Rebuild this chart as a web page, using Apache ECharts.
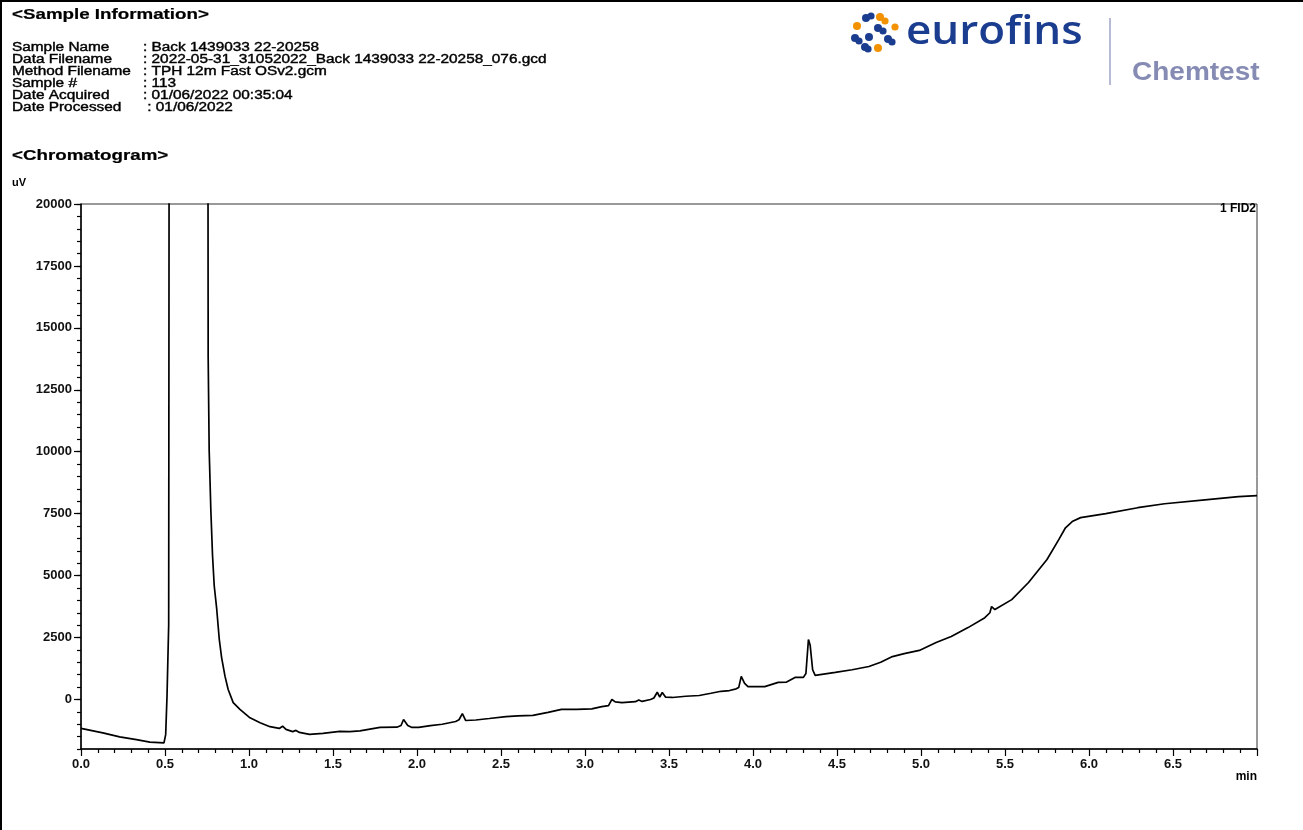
<!DOCTYPE html>
<html>
<head>
<meta charset="utf-8">
<title>Chromatogram</title>
<script src="https://cdn.jsdelivr.net/npm/echarts@6/dist/echarts.min.js"></script>
<style>
  html, body { margin: 0; padding: 0; background: #fff; }
  #chart { width: 1303px; height: 830px; }
</style>
</head>
<body>
<div id="chart"></div>
<script>
// retention time (min) and detector response (uV)
const retention = [
  0.00, 0.13, 0.23, 0.33, 0.41, 0.494, 0.504, 0.512, 0.522, 0.533, 0.64, 0.746,
  0.757, 0.763, 0.773, 0.783, 0.793, 0.807, 0.823, 0.837, 0.857, 0.876, 0.906, 0.946,
  1.006, 1.066, 1.125, 1.18, 1.20, 1.22, 1.26, 1.28, 1.30, 1.36, 1.44, 1.54,
  1.60, 1.66, 1.72, 1.78, 1.88, 1.905, 1.92, 1.945, 1.97, 2.01, 2.08, 2.15,
  2.23, 2.25, 2.27, 2.29, 2.35, 2.43, 2.53, 2.60, 2.69, 2.78, 2.86, 2.95,
  3.04, 3.10, 3.14, 3.16, 3.18, 3.22, 3.30, 3.32, 3.34, 3.39, 3.41, 3.43,
  3.445, 3.46, 3.48, 3.52, 3.60, 3.68, 3.75, 3.81, 3.86, 3.90, 3.915, 3.93,
  3.95, 3.97, 4.07, 4.15, 4.20, 4.25, 4.30, 4.315, 4.33, 4.34, 4.355, 4.37,
  4.42, 4.49, 4.59, 4.69, 4.76, 4.83, 4.90, 4.99, 5.09, 5.18, 5.28, 5.38,
  5.41, 5.42, 5.44, 5.54, 5.64, 5.75, 5.82, 5.86, 5.90, 5.95, 6.10, 6.29,
  6.45, 6.69, 6.89, 7.00
];
const signal = [
  -1170, -1350, -1510, -1620, -1720, -1750, -1420, 130, 3030, 90000, 150000, 90000,
  13820, 10050, 7620, 5800, 4590, 3710, 2430, 1690, 940, 400, -130, -400,
  -740, -940, -1100, -1170, -1080, -1210, -1300, -1250, -1330, -1410, -1370, -1290,
  -1300, -1270, -1200, -1130, -1120, -1050, -810, -1050, -1130, -1130, -1060, -1000,
  -890, -820, -570, -850, -830, -770, -690, -660, -640, -520, -400, -400,
  -380, -290, -250, 0, -100, -130, -90, -20, -80, 0, 60, 290,
  100, 280, 90, 80, 130, 160, 250, 330, 360, 430, 480, 930,
  650, 520, 520, 690, 700, 890, 890, 1050, 2420, 2200, 1200, 970,
  1020, 1090, 1200, 1330, 1500, 1730, 1850, 1980, 2300, 2540, 2900, 3300,
  3500, 3750, 3630, 4030, 4720, 5650, 6450, 6930, 7180, 7340, 7500, 7740,
  7900, 8060, 8190, 8230
];

const yLabelValues = [0, 2500, 5000, 7500, 10000, 12500, 15000, 17500, 20000];

const infoLabels = ['Sample Name', 'Data Filename', 'Method Filename', 'Sample #', 'Date Acquired', 'Date Processed'];
const infoValues = [
  ': Back 1439033 22-20258',
  ': 2022-05-31_31052022_Back 1439033 22-20258_076.gcd',
  ': TPH 12m Fast OSv2.gcm',
  ': 113',
  ': 01/06/2022 00:35:04',
  ' : 01/06/2022'
];

const FONT = '"Liberation Sans", Arial, sans-serif';
const BLUE = '#1b3d8f';
const ORANGE = '#f39200';

const traceData = retention.map((t, i) => [t, signal[i]]);

// stretched header text, like the printed report
const headerText = (x, y, text, size, bold) => ({
  type: 'text',
  x: x,
  y: y,
  scaleX: bold ? 1.25 : 1.23,
  silent: true,
  style: {
    text: text,
    x: 0,
    y: 0,
    fill: '#000',
    stroke: '#000',
    lineWidth: bold ? 0.2 : 0.4,
    font: (bold ? 'bold ' : '') + size + 'px ' + FONT,
    textVerticalAlign: 'middle'
  }
});

const graphics = [
  { type: 'rect', shape: { x: 0, y: 0, width: 1303, height: 2 }, style: { fill: '#000' }, silent: true },
  { type: 'rect', shape: { x: 0, y: 0, width: 2, height: 830 }, style: { fill: '#000' }, silent: true },
  headerText(12, 15, '<Sample Information>', 15, true),
  headerText(12, 156, '<Chromatogram>', 15, true)
];

infoLabels.forEach((label, i) => {
  graphics.push(headerText(12, 48 + i * 12, label, 12.5, false));
  graphics.push(headerText(143, 48 + i * 12, infoValues[i], 12.5, false));
});

// eurofins dots
const dots = [
  [866, 18, 4, BLUE], [871, 16, 3.6, BLUE],
  [880, 17, 4, ORANGE], [885, 21, 3.6, ORANGE],
  [857, 26, 4, ORANGE], [895, 27, 3.6, ORANGE],
  [878, 28, 4, BLUE], [883, 31, 3.6, BLUE],
  [855, 38, 4, BLUE], [859, 41, 3.6, BLUE],
  [869, 37, 4, BLUE],
  [888, 39, 4, BLUE], [892, 42, 3.6, BLUE],
  [865, 47, 4, BLUE], [868, 49, 3.6, BLUE],
  [878, 48, 4, ORANGE]
];
dots.forEach(d => {
  graphics.push({ type: 'circle', shape: { cx: d[0], cy: d[1], r: d[2] }, style: { fill: d[3] }, silent: true });
});

graphics.push(
  {
    type: 'text', x: 906, y: 33, scaleX: 1.1, silent: true,
    style: { text: 'eurofins', x: 0, y: 0, fill: BLUE, font: '600 40px "Open Sans", sans-serif', textVerticalAlign: 'middle' }
  },
  { type: 'line', shape: { x1: 1110, y1: 18, x2: 1110, y2: 85 }, style: { stroke: '#9ea3c6', lineWidth: 1.5 }, silent: true },
  {
    type: 'text', x: 1132, y: 73, scaleX: 1.12, silent: true,
    style: { text: 'Chemtest', x: 0, y: 0, fill: '#868bb4', font: 'bold 25px ' + FONT, textVerticalAlign: 'middle' }
  },
  {
    type: 'text', x: 12, y: 183, silent: true,
    style: { text: 'uV', fill: '#000', font: 'bold 11px ' + FONT, textVerticalAlign: 'middle' }
  },
  {
    type: 'text', x: 1256, y: 209, silent: true,
    style: { text: '1 FID2', fill: '#000', font: 'bold 12px ' + FONT, textAlign: 'right', textVerticalAlign: 'middle' }
  },
  {
    type: 'text', x: 1257, y: 777, silent: true,
    style: { text: 'min', fill: '#000', font: 'bold 12px ' + FONT, textAlign: 'right', textVerticalAlign: 'middle' }
  }
);

const chart = echarts.init(document.getElementById('chart'));
chart.setOption({
  animation: false,
  backgroundColor: '#fff',
  grid: {
    left: 81, right: 46, top: 204, bottom: 81,
    show: true, borderColor: '#333', borderWidth: 1,
    outerBoundsMode: 'none'
  },
  xAxis: {
    type: 'value',
    min: 0,
    max: 7,
    interval: 0.5,
    axisLine: { onZero: false, lineStyle: { color: '#000', width: 1.5 } },
    axisTick: { length: 7, lineStyle: { color: '#000', width: 1.2 } },
    minorTick: { show: true, splitNumber: 5, length: 4, lineStyle: { color: '#000', width: 1.2 } },
    splitLine: { show: false },
    axisLabel: {
      showMaxLabel: false,
      margin: 9,
      color: '#111',
      fontFamily: FONT,
      fontWeight: 'bold',
      fontSize: 13,
      formatter: v => v.toFixed(1)
    }
  },
  yAxis: [
    {
      type: 'value',
      min: -2000,
      max: 20000,
      interval: 500,
      axisLine: { show: true, onZero: false, lineStyle: { color: '#000', width: 1.5 } },
      axisTick: { length: 4, lineStyle: { color: '#000', width: 1.2 } },
      splitLine: { show: false },
      axisLabel: {
        customValues: yLabelValues,
        margin: 9,
        color: '#111',
        fontFamily: FONT,
        fontWeight: 'bold',
        fontSize: 13,
        formatter: v => String(v)
      }
    },
    {
      type: 'value',
      position: 'left',
      min: -2000,
      max: 20000,
      axisLine: { show: false },
      axisTick: { show: true, customValues: yLabelValues, length: 7, lineStyle: { color: '#000', width: 1.2 } },
      axisLabel: { show: false },
      splitLine: { show: false }
    }
  ],
  series: [
    {
      type: 'line',
      data: traceData,
      showSymbol: false,
      clip: true,
      lineStyle: { color: '#000', width: 1.7 },
      silent: true
    }
  ],
  graphic: graphics
});
</script>
</body>
</html>
